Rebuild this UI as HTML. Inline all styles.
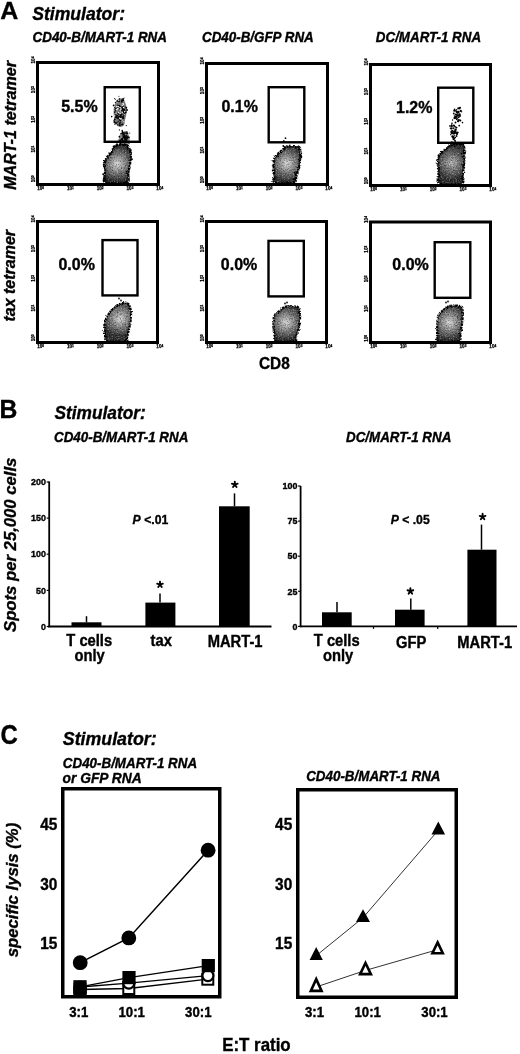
<!DOCTYPE html>
<html><head><meta charset="utf-8"><style>
html,body{margin:0;padding:0;background:#fff;width:520px;height:1054px;overflow:hidden}
svg{display:block;filter:grayscale(1)}
text{font-family:"Liberation Sans",sans-serif;font-weight:bold;fill:#000;stroke:#000;stroke-width:0.35px}
</style></head><body>
<svg width="520" height="1054" viewBox="0 0 520 1054">
<text transform="translate(0.3,19.3) scale(1.0,0.95)" font-size="25">A</text>
<text transform="translate(32.2,19.6) scale(1.0,1.05)" font-size="17.6" font-style="italic">Stimulator:</text>
<text transform="translate(32.6,42.4) scale(1.0,1.05)" font-size="13.4" font-style="italic">CD40-B/MART-1 RNA</text>
<text transform="translate(202.0,42.2) scale(1.0,1.05)" font-size="13.4" font-style="italic">CD40-B/GFP RNA</text>
<text transform="translate(375.8,42.2) scale(1.0,1.05)" font-size="13.4" font-style="italic">DC/MART-1 RNA</text>
<defs>
<radialGradient id="bg" cx="0.5" cy="0.5" r="0.6"><stop offset="0" stop-color="#d8d8d8"/><stop offset="0.35" stop-color="#a8a8a8"/><stop offset="0.75" stop-color="#6a6a6a"/><stop offset="1" stop-color="#333"/></radialGradient>
<radialGradient id="bgd" cx="0.5" cy="0.5" r="0.6"><stop offset="0" stop-color="#c0c0c0"/><stop offset="0.35" stop-color="#8a8a8a"/><stop offset="0.75" stop-color="#555"/><stop offset="1" stop-color="#2a2a2a"/></radialGradient>
<filter id="rough" x="-20%" y="-20%" width="140%" height="140%"><feTurbulence type="fractalNoise" baseFrequency="0.6" numOctaves="2" seed="3"/><feDisplacementMap in="SourceGraphic" scale="3" xChannelSelector="R" yChannelSelector="G"/></filter>
</defs>
<defs>
<radialGradient id="g0" gradientUnits="userSpaceOnUse" cx="117.6" cy="163.7" r="17"><stop offset="0" stop-color="#dcdcdc"/><stop offset="0.25" stop-color="#acacac"/><stop offset="0.6" stop-color="#707070"/><stop offset="0.9" stop-color="#444"/><stop offset="1" stop-color="#2e2e2e"/></radialGradient>
<radialGradient id="g1" gradientUnits="userSpaceOnUse" cx="286.9" cy="163.5" r="17"><stop offset="0" stop-color="#dcdcdc"/><stop offset="0.25" stop-color="#acacac"/><stop offset="0.6" stop-color="#707070"/><stop offset="0.9" stop-color="#444"/><stop offset="1" stop-color="#2e2e2e"/></radialGradient>
<radialGradient id="g2" gradientUnits="userSpaceOnUse" cx="451.7" cy="162.7" r="17"><stop offset="0" stop-color="#bdbdbd"/><stop offset="0.25" stop-color="#8e8e8e"/><stop offset="0.6" stop-color="#5e5e5e"/><stop offset="0.9" stop-color="#3a3a3a"/><stop offset="1" stop-color="#2a2a2a"/></radialGradient>
<radialGradient id="g3" gradientUnits="userSpaceOnUse" cx="120" cy="318.8" r="17"><stop offset="0" stop-color="#dcdcdc"/><stop offset="0.25" stop-color="#acacac"/><stop offset="0.6" stop-color="#707070"/><stop offset="0.9" stop-color="#444"/><stop offset="1" stop-color="#2e2e2e"/></radialGradient>
<radialGradient id="g4" gradientUnits="userSpaceOnUse" cx="286" cy="322.3" r="17"><stop offset="0" stop-color="#dcdcdc"/><stop offset="0.25" stop-color="#acacac"/><stop offset="0.6" stop-color="#707070"/><stop offset="0.9" stop-color="#444"/><stop offset="1" stop-color="#2e2e2e"/></radialGradient>
<radialGradient id="g5" gradientUnits="userSpaceOnUse" cx="449.4" cy="322.3" r="17"><stop offset="0" stop-color="#dcdcdc"/><stop offset="0.25" stop-color="#acacac"/><stop offset="0.6" stop-color="#707070"/><stop offset="0.9" stop-color="#444"/><stop offset="1" stop-color="#2e2e2e"/></radialGradient>
<filter id="grain" x="-5%" y="-5%" width="110%" height="110%"><feTurbulence type="fractalNoise" baseFrequency="0.75" numOctaves="2" seed="11" result="t"/><feColorMatrix in="t" type="matrix" values="0 0 0 0 0  0 0 0 0 0  0 0 0 0 0  3 0 0 0 -1.45" result="m"/><feComposite in="SourceGraphic" in2="m" operator="in"/></filter>
<filter id="grain2" x="-5%" y="-5%" width="110%" height="110%"><feTurbulence type="fractalNoise" baseFrequency="0.75" numOctaves="2" seed="23" result="t"/><feColorMatrix in="t" type="matrix" values="0 0 0 0 0  0 0 0 0 0  0 0 0 0 0  3 0 0 0 -1.5" result="m"/><feComposite in="SourceGraphic" in2="m" operator="in"/></filter>
</defs>
<path d="M115.2,145.9 C113.1,147.3 112.4,150.6 110.9,152.6 C109.5,154.6 107.5,156.1 106.5,157.9 C105.5,159.8 104.8,161.6 104.6,163.7 C104.4,165.8 105.1,168.3 105.1,170.4 C105.1,172.5 104.5,174.2 104.6,176.2 C104.7,178.2 101.9,181.4 105.6,182.5 C109.3,183.6 122.9,183.7 126.7,182.5 C130.5,181.3 127.8,177.5 128.2,175.2 C128.6,172.9 128.7,170.9 129.1,168.5 C129.5,166.1 130.3,163.4 130.6,160.8 C130.8,158.2 130.9,155.3 130.6,153.1 C130.3,150.8 129.8,148.8 128.7,147.3 C127.6,145.9 126.0,144.6 123.8,144.4 C121.5,144.2 117.3,144.5 115.2,145.9Z" fill="url(#g0)"/>
<path d="M115.2,145.9 C113.1,147.3 112.4,150.6 110.9,152.6 C109.5,154.6 107.5,156.1 106.5,157.9 C105.5,159.8 104.8,161.6 104.6,163.7 C104.4,165.8 105.1,168.3 105.1,170.4 C105.1,172.5 104.5,174.2 104.6,176.2 C104.7,178.2 101.9,181.4 105.6,182.5 C109.3,183.6 122.9,183.7 126.7,182.5 C130.5,181.3 127.8,177.5 128.2,175.2 C128.6,172.9 128.7,170.9 129.1,168.5 C129.5,166.1 130.3,163.4 130.6,160.8 C130.8,158.2 130.9,155.3 130.6,153.1 C130.3,150.8 129.8,148.8 128.7,147.3 C127.6,145.9 126.0,144.6 123.8,144.4 C121.5,144.2 117.3,144.5 115.2,145.9Z" fill="#000" fill-opacity="0.45" filter="url(#grain)"/>
<path d="M115.2,145.9 C113.1,147.3 112.4,150.6 110.9,152.6 C109.5,154.6 107.5,156.1 106.5,157.9 C105.5,159.8 104.8,161.6 104.6,163.7 C104.4,165.8 105.1,168.3 105.1,170.4 C105.1,172.5 104.5,174.2 104.6,176.2 C104.7,178.2 101.9,181.4 105.6,182.5 C109.3,183.6 122.9,183.7 126.7,182.5 C130.5,181.3 127.8,177.5 128.2,175.2 C128.6,172.9 128.7,170.9 129.1,168.5 C129.5,166.1 130.3,163.4 130.6,160.8 C130.8,158.2 130.9,155.3 130.6,153.1 C130.3,150.8 129.8,148.8 128.7,147.3 C127.6,145.9 126.0,144.6 123.8,144.4 C121.5,144.2 117.3,144.5 115.2,145.9Z" fill="#fff" fill-opacity="0.35" filter="url(#grain2)"/>
<g filter="url(#rough)"><path d="M115.2,145.9 C113.1,147.3 112.4,150.6 110.9,152.6 C109.5,154.6 107.5,156.1 106.5,157.9 C105.5,159.8 104.8,161.6 104.6,163.7 C104.4,165.8 105.1,168.3 105.1,170.4 C105.1,172.5 104.5,174.2 104.6,176.2 C104.7,178.2 101.9,181.4 105.6,182.5 C109.3,183.6 122.9,183.7 126.7,182.5 C130.5,181.3 127.8,177.5 128.2,175.2 C128.6,172.9 128.7,170.9 129.1,168.5 C129.5,166.1 130.3,163.4 130.6,160.8 C130.8,158.2 130.9,155.3 130.6,153.1 C130.3,150.8 129.8,148.8 128.7,147.3 C127.6,145.9 126.0,144.6 123.8,144.4 C121.5,144.2 117.3,144.5 115.2,145.9Z" fill="none" stroke="#000" stroke-width="2.2" stroke-dasharray="2.5 0.8 1.5 1"/></g>
<circle cx="114.6" cy="149.1" r="0.54" fill="#000"/>
<circle cx="112.7" cy="149.7" r="0.75" fill="#000"/>
<circle cx="114.7" cy="146.3" r="0.55" fill="#000"/>
<circle cx="113.6" cy="148.3" r="0.61" fill="#000"/>
<circle cx="109.3" cy="155.5" r="0.70" fill="#000"/>
<circle cx="108.3" cy="158.3" r="0.64" fill="#000"/>
<circle cx="110.8" cy="153.9" r="0.91" fill="#000"/>
<circle cx="109.0" cy="152.9" r="0.69" fill="#000"/>
<circle cx="105.8" cy="161.2" r="0.60" fill="#000"/>
<circle cx="104.5" cy="162.2" r="0.79" fill="#000"/>
<circle cx="105.1" cy="162.1" r="0.85" fill="#000"/>
<circle cx="103.7" cy="164.8" r="0.94" fill="#000"/>
<circle cx="104.4" cy="171.0" r="0.56" fill="#000"/>
<circle cx="104.8" cy="166.0" r="0.74" fill="#000"/>
<circle cx="103.9" cy="162.6" r="0.79" fill="#000"/>
<circle cx="104.1" cy="176.8" r="0.80" fill="#000"/>
<circle cx="103.2" cy="174.2" r="0.97" fill="#000"/>
<circle cx="104.7" cy="172.9" r="0.85" fill="#000"/>
<circle cx="106.9" cy="180.2" r="0.64" fill="#000"/>
<circle cx="104.9" cy="178.5" r="0.73" fill="#000"/>
<circle cx="105.0" cy="177.5" r="0.88" fill="#000"/>
<circle cx="126.9" cy="182.5" r="0.94" fill="#000"/>
<circle cx="125.7" cy="182.3" r="0.94" fill="#000"/>
<circle cx="128.4" cy="176.0" r="0.71" fill="#000"/>
<circle cx="128.9" cy="178.4" r="0.58" fill="#000"/>
<circle cx="128.4" cy="174.7" r="0.74" fill="#000"/>
<circle cx="128.7" cy="171.3" r="0.71" fill="#000"/>
<circle cx="126.5" cy="171.8" r="0.85" fill="#000"/>
<circle cx="127.7" cy="170.8" r="0.53" fill="#000"/>
<circle cx="130.8" cy="159.8" r="0.90" fill="#000"/>
<circle cx="129.3" cy="165.7" r="0.82" fill="#000"/>
<circle cx="129.8" cy="168.3" r="0.58" fill="#000"/>
<circle cx="129.6" cy="165.9" r="0.58" fill="#000"/>
<circle cx="130.5" cy="160.2" r="0.94" fill="#000"/>
<circle cx="131.0" cy="156.6" r="0.67" fill="#000"/>
<circle cx="131.9" cy="159.2" r="1.00" fill="#000"/>
<circle cx="130.2" cy="157.3" r="0.55" fill="#000"/>
<circle cx="129.8" cy="152.8" r="0.58" fill="#000"/>
<circle cx="131.6" cy="152.6" r="0.57" fill="#000"/>
<circle cx="130.7" cy="150.1" r="0.99" fill="#000"/>
<circle cx="124.2" cy="144.1" r="0.68" fill="#000"/>
<circle cx="128.0" cy="145.7" r="0.89" fill="#000"/>
<circle cx="127.4" cy="148.0" r="0.99" fill="#000"/>
<circle cx="117.0" cy="144.1" r="0.87" fill="#000"/>
<circle cx="121.0" cy="144.6" r="0.51" fill="#000"/>
<circle cx="123.4" cy="145.1" r="0.85" fill="#000"/>
<circle cx="113.6" cy="146.5" r="0.99" fill="#000"/>
<circle cx="115.2" cy="146.3" r="0.61" fill="#000"/>
<path d="M284.6,147.3 C282.9,148.2 282.4,150.8 281.2,151.9 C280.0,153.1 278.9,153.0 277.7,154.2 C276.5,155.3 274.9,156.7 274.2,158.8 C273.5,160.9 273.7,164.0 273.7,166.9 C273.7,169.8 274.0,173.6 274.2,176.2 C274.4,178.8 271.5,181.4 274.8,182.5 C278.1,183.6 290.2,183.6 293.8,182.5 C297.4,181.4 295.3,178.8 296.2,176.2 C297.1,173.6 298.3,170.0 299.0,166.9 C299.7,163.8 300.0,160.6 300.2,157.7 C300.4,154.8 300.5,151.4 300.2,149.6 C299.9,147.8 299.9,147.3 298.5,146.7 C297.1,146.1 293.8,146.1 291.5,146.2 C289.2,146.3 286.3,146.4 284.6,147.3Z" fill="url(#g1)"/>
<path d="M284.6,147.3 C282.9,148.2 282.4,150.8 281.2,151.9 C280.0,153.1 278.9,153.0 277.7,154.2 C276.5,155.3 274.9,156.7 274.2,158.8 C273.5,160.9 273.7,164.0 273.7,166.9 C273.7,169.8 274.0,173.6 274.2,176.2 C274.4,178.8 271.5,181.4 274.8,182.5 C278.1,183.6 290.2,183.6 293.8,182.5 C297.4,181.4 295.3,178.8 296.2,176.2 C297.1,173.6 298.3,170.0 299.0,166.9 C299.7,163.8 300.0,160.6 300.2,157.7 C300.4,154.8 300.5,151.4 300.2,149.6 C299.9,147.8 299.9,147.3 298.5,146.7 C297.1,146.1 293.8,146.1 291.5,146.2 C289.2,146.3 286.3,146.4 284.6,147.3Z" fill="#000" fill-opacity="0.45" filter="url(#grain)"/>
<path d="M284.6,147.3 C282.9,148.2 282.4,150.8 281.2,151.9 C280.0,153.1 278.9,153.0 277.7,154.2 C276.5,155.3 274.9,156.7 274.2,158.8 C273.5,160.9 273.7,164.0 273.7,166.9 C273.7,169.8 274.0,173.6 274.2,176.2 C274.4,178.8 271.5,181.4 274.8,182.5 C278.1,183.6 290.2,183.6 293.8,182.5 C297.4,181.4 295.3,178.8 296.2,176.2 C297.1,173.6 298.3,170.0 299.0,166.9 C299.7,163.8 300.0,160.6 300.2,157.7 C300.4,154.8 300.5,151.4 300.2,149.6 C299.9,147.8 299.9,147.3 298.5,146.7 C297.1,146.1 293.8,146.1 291.5,146.2 C289.2,146.3 286.3,146.4 284.6,147.3Z" fill="#fff" fill-opacity="0.35" filter="url(#grain2)"/>
<g filter="url(#rough)"><path d="M284.6,147.3 C282.9,148.2 282.4,150.8 281.2,151.9 C280.0,153.1 278.9,153.0 277.7,154.2 C276.5,155.3 274.9,156.7 274.2,158.8 C273.5,160.9 273.7,164.0 273.7,166.9 C273.7,169.8 274.0,173.6 274.2,176.2 C274.4,178.8 271.5,181.4 274.8,182.5 C278.1,183.6 290.2,183.6 293.8,182.5 C297.4,181.4 295.3,178.8 296.2,176.2 C297.1,173.6 298.3,170.0 299.0,166.9 C299.7,163.8 300.0,160.6 300.2,157.7 C300.4,154.8 300.5,151.4 300.2,149.6 C299.9,147.8 299.9,147.3 298.5,146.7 C297.1,146.1 293.8,146.1 291.5,146.2 C289.2,146.3 286.3,146.4 284.6,147.3Z" fill="none" stroke="#000" stroke-width="2.2" stroke-dasharray="2.5 0.8 1.5 1"/></g>
<circle cx="284.3" cy="149.4" r="0.95" fill="#000"/>
<circle cx="280.4" cy="151.3" r="0.90" fill="#000"/>
<circle cx="283.3" cy="146.0" r="0.89" fill="#000"/>
<circle cx="278.0" cy="153.7" r="0.89" fill="#000"/>
<circle cx="280.8" cy="150.4" r="0.70" fill="#000"/>
<circle cx="277.7" cy="155.6" r="0.59" fill="#000"/>
<circle cx="278.4" cy="156.4" r="0.90" fill="#000"/>
<circle cx="278.4" cy="152.6" r="0.83" fill="#000"/>
<circle cx="273.6" cy="161.5" r="0.51" fill="#000"/>
<circle cx="273.1" cy="165.8" r="0.97" fill="#000"/>
<circle cx="275.1" cy="161.1" r="0.61" fill="#000"/>
<circle cx="273.9" cy="161.5" r="0.79" fill="#000"/>
<circle cx="273.7" cy="161.1" r="0.96" fill="#000"/>
<circle cx="272.7" cy="170.5" r="0.95" fill="#000"/>
<circle cx="274.8" cy="170.3" r="0.77" fill="#000"/>
<circle cx="274.9" cy="171.9" r="0.59" fill="#000"/>
<circle cx="273.9" cy="166.4" r="0.74" fill="#000"/>
<circle cx="273.3" cy="173.4" r="0.76" fill="#000"/>
<circle cx="274.6" cy="179.3" r="0.78" fill="#000"/>
<circle cx="274.1" cy="179.3" r="0.75" fill="#000"/>
<circle cx="274.7" cy="177.8" r="0.72" fill="#000"/>
<circle cx="294.2" cy="178.6" r="0.85" fill="#000"/>
<circle cx="293.9" cy="179.4" r="0.97" fill="#000"/>
<circle cx="297.0" cy="176.6" r="0.63" fill="#000"/>
<circle cx="296.8" cy="178.4" r="0.57" fill="#000"/>
<circle cx="296.2" cy="175.2" r="0.62" fill="#000"/>
<circle cx="295.6" cy="174.1" r="0.95" fill="#000"/>
<circle cx="296.4" cy="173.5" r="0.57" fill="#000"/>
<circle cx="299.3" cy="167.9" r="0.98" fill="#000"/>
<circle cx="294.6" cy="172.7" r="0.92" fill="#000"/>
<circle cx="295.7" cy="175.2" r="0.67" fill="#000"/>
<circle cx="298.6" cy="166.4" r="0.51" fill="#000"/>
<circle cx="299.5" cy="161.9" r="0.67" fill="#000"/>
<circle cx="299.4" cy="161.1" r="0.99" fill="#000"/>
<circle cx="300.4" cy="159.6" r="0.63" fill="#000"/>
<circle cx="299.2" cy="165.8" r="0.56" fill="#000"/>
<circle cx="301.6" cy="153.4" r="0.63" fill="#000"/>
<circle cx="301.2" cy="155.9" r="0.85" fill="#000"/>
<circle cx="301.5" cy="157.5" r="0.71" fill="#000"/>
<circle cx="301.4" cy="156.6" r="0.90" fill="#000"/>
<circle cx="300.4" cy="156.8" r="0.93" fill="#000"/>
<circle cx="298.8" cy="149.3" r="0.96" fill="#000"/>
<circle cx="300.5" cy="149.6" r="0.62" fill="#000"/>
<circle cx="297.9" cy="146.9" r="0.60" fill="#000"/>
<circle cx="295.8" cy="148.0" r="0.64" fill="#000"/>
<circle cx="295.4" cy="147.2" r="0.51" fill="#000"/>
<circle cx="298.2" cy="146.7" r="0.78" fill="#000"/>
<circle cx="288.1" cy="146.7" r="0.55" fill="#000"/>
<circle cx="284.9" cy="147.5" r="0.92" fill="#000"/>
<circle cx="287.4" cy="146.6" r="0.99" fill="#000"/>
<circle cx="289.8" cy="145.4" r="0.82" fill="#000"/>
<path d="M447.7,147.7 C446.5,148.8 444.4,149.8 443.0,151.2 C441.6,152.5 439.9,153.7 439.0,155.8 C438.1,157.9 438.0,160.7 437.9,163.8 C437.8,166.9 438.2,170.9 438.5,174.2 C438.8,177.5 435.8,181.9 439.6,183.5 C443.4,185.1 457.6,184.8 461.5,183.5 C465.4,182.2 462.3,178.3 462.7,175.4 C463.1,172.5 463.5,169.7 463.8,166.2 C464.1,162.7 464.4,157.9 464.4,154.6 C464.4,151.3 464.9,148.3 463.8,146.5 C462.7,144.7 460.3,144.0 458.0,143.7 C455.7,143.4 451.7,144.1 450.0,144.8 C448.3,145.5 448.9,146.6 447.7,147.7Z" fill="url(#g2)"/>
<path d="M447.7,147.7 C446.5,148.8 444.4,149.8 443.0,151.2 C441.6,152.5 439.9,153.7 439.0,155.8 C438.1,157.9 438.0,160.7 437.9,163.8 C437.8,166.9 438.2,170.9 438.5,174.2 C438.8,177.5 435.8,181.9 439.6,183.5 C443.4,185.1 457.6,184.8 461.5,183.5 C465.4,182.2 462.3,178.3 462.7,175.4 C463.1,172.5 463.5,169.7 463.8,166.2 C464.1,162.7 464.4,157.9 464.4,154.6 C464.4,151.3 464.9,148.3 463.8,146.5 C462.7,144.7 460.3,144.0 458.0,143.7 C455.7,143.4 451.7,144.1 450.0,144.8 C448.3,145.5 448.9,146.6 447.7,147.7Z" fill="#000" fill-opacity="0.45" filter="url(#grain)"/>
<path d="M447.7,147.7 C446.5,148.8 444.4,149.8 443.0,151.2 C441.6,152.5 439.9,153.7 439.0,155.8 C438.1,157.9 438.0,160.7 437.9,163.8 C437.8,166.9 438.2,170.9 438.5,174.2 C438.8,177.5 435.8,181.9 439.6,183.5 C443.4,185.1 457.6,184.8 461.5,183.5 C465.4,182.2 462.3,178.3 462.7,175.4 C463.1,172.5 463.5,169.7 463.8,166.2 C464.1,162.7 464.4,157.9 464.4,154.6 C464.4,151.3 464.9,148.3 463.8,146.5 C462.7,144.7 460.3,144.0 458.0,143.7 C455.7,143.4 451.7,144.1 450.0,144.8 C448.3,145.5 448.9,146.6 447.7,147.7Z" fill="#fff" fill-opacity="0.35" filter="url(#grain2)"/>
<g filter="url(#rough)"><path d="M447.7,147.7 C446.5,148.8 444.4,149.8 443.0,151.2 C441.6,152.5 439.9,153.7 439.0,155.8 C438.1,157.9 438.0,160.7 437.9,163.8 C437.8,166.9 438.2,170.9 438.5,174.2 C438.8,177.5 435.8,181.9 439.6,183.5 C443.4,185.1 457.6,184.8 461.5,183.5 C465.4,182.2 462.3,178.3 462.7,175.4 C463.1,172.5 463.5,169.7 463.8,166.2 C464.1,162.7 464.4,157.9 464.4,154.6 C464.4,151.3 464.9,148.3 463.8,146.5 C462.7,144.7 460.3,144.0 458.0,143.7 C455.7,143.4 451.7,144.1 450.0,144.8 C448.3,145.5 448.9,146.6 447.7,147.7Z" fill="none" stroke="#000" stroke-width="2.2" stroke-dasharray="2.5 0.8 1.5 1"/></g>
<circle cx="445.6" cy="149.4" r="0.56" fill="#000"/>
<circle cx="447.3" cy="147.3" r="0.58" fill="#000"/>
<circle cx="448.3" cy="146.5" r="0.84" fill="#000"/>
<circle cx="441.9" cy="153.2" r="0.73" fill="#000"/>
<circle cx="441.7" cy="152.2" r="0.98" fill="#000"/>
<circle cx="438.5" cy="155.5" r="0.98" fill="#000"/>
<circle cx="438.6" cy="158.3" r="0.69" fill="#000"/>
<circle cx="437.9" cy="159.6" r="0.75" fill="#000"/>
<circle cx="439.0" cy="156.2" r="0.70" fill="#000"/>
<circle cx="439.7" cy="156.2" r="0.62" fill="#000"/>
<circle cx="436.9" cy="160.2" r="0.83" fill="#000"/>
<circle cx="439.0" cy="170.6" r="0.66" fill="#000"/>
<circle cx="439.3" cy="175.2" r="0.82" fill="#000"/>
<circle cx="438.9" cy="162.6" r="0.81" fill="#000"/>
<circle cx="438.5" cy="171.0" r="0.76" fill="#000"/>
<circle cx="439.0" cy="167.6" r="0.91" fill="#000"/>
<circle cx="439.3" cy="169.0" r="0.85" fill="#000"/>
<circle cx="439.2" cy="176.4" r="0.68" fill="#000"/>
<circle cx="439.2" cy="174.2" r="0.81" fill="#000"/>
<circle cx="438.7" cy="179.1" r="0.50" fill="#000"/>
<circle cx="439.4" cy="180.6" r="0.77" fill="#000"/>
<circle cx="440.6" cy="180.9" r="0.63" fill="#000"/>
<circle cx="461.4" cy="184.3" r="0.60" fill="#000"/>
<circle cx="463.4" cy="177.3" r="0.69" fill="#000"/>
<circle cx="461.5" cy="178.2" r="0.81" fill="#000"/>
<circle cx="462.7" cy="178.5" r="0.63" fill="#000"/>
<circle cx="462.0" cy="178.6" r="0.51" fill="#000"/>
<circle cx="462.6" cy="176.2" r="0.85" fill="#000"/>
<circle cx="463.2" cy="170.2" r="0.73" fill="#000"/>
<circle cx="464.6" cy="172.4" r="0.60" fill="#000"/>
<circle cx="463.9" cy="166.3" r="0.73" fill="#000"/>
<circle cx="464.6" cy="167.7" r="0.63" fill="#000"/>
<circle cx="464.5" cy="163.6" r="0.79" fill="#000"/>
<circle cx="461.7" cy="164.2" r="0.57" fill="#000"/>
<circle cx="462.4" cy="156.6" r="0.85" fill="#000"/>
<circle cx="464.8" cy="162.9" r="0.51" fill="#000"/>
<circle cx="462.8" cy="166.2" r="0.65" fill="#000"/>
<circle cx="463.4" cy="165.2" r="0.92" fill="#000"/>
<circle cx="463.8" cy="164.5" r="0.56" fill="#000"/>
<circle cx="463.4" cy="145.2" r="0.64" fill="#000"/>
<circle cx="461.6" cy="153.6" r="0.79" fill="#000"/>
<circle cx="463.5" cy="152.0" r="0.52" fill="#000"/>
<circle cx="464.7" cy="153.1" r="0.97" fill="#000"/>
<circle cx="464.1" cy="153.7" r="0.59" fill="#000"/>
<circle cx="463.4" cy="144.9" r="0.91" fill="#000"/>
<circle cx="462.0" cy="143.6" r="0.77" fill="#000"/>
<circle cx="461.0" cy="144.9" r="0.73" fill="#000"/>
<circle cx="459.0" cy="143.8" r="0.52" fill="#000"/>
<circle cx="451.3" cy="145.4" r="0.67" fill="#000"/>
<circle cx="455.4" cy="141.6" r="0.63" fill="#000"/>
<circle cx="452.4" cy="145.5" r="0.70" fill="#000"/>
<circle cx="457.0" cy="144.4" r="0.95" fill="#000"/>
<circle cx="454.4" cy="146.2" r="1.00" fill="#000"/>
<circle cx="449.3" cy="146.6" r="0.55" fill="#000"/>
<circle cx="449.8" cy="146.2" r="0.63" fill="#000"/>
<path d="M117.7,305.0 C115.6,306.1 113.6,307.7 111.9,309.6 C110.2,311.5 108.5,314.0 107.3,316.5 C106.0,319.0 104.8,321.7 104.4,324.6 C104.0,327.5 104.5,331.1 105.0,333.8 C105.5,336.5 103.8,339.8 107.3,341.0 C110.8,342.2 122.5,341.4 125.8,341.0 C129.1,340.6 126.4,340.3 126.9,338.5 C127.4,336.7 128.1,333.1 128.7,330.4 C129.3,327.7 130.0,325.2 130.4,322.3 C130.8,319.4 131.2,315.9 131.0,313.0 C130.8,310.1 130.3,306.7 129.2,305.0 C128.1,303.3 126.5,302.7 124.6,302.7 C122.7,302.7 119.8,303.9 117.7,305.0Z" fill="url(#g3)"/>
<path d="M117.7,305.0 C115.6,306.1 113.6,307.7 111.9,309.6 C110.2,311.5 108.5,314.0 107.3,316.5 C106.0,319.0 104.8,321.7 104.4,324.6 C104.0,327.5 104.5,331.1 105.0,333.8 C105.5,336.5 103.8,339.8 107.3,341.0 C110.8,342.2 122.5,341.4 125.8,341.0 C129.1,340.6 126.4,340.3 126.9,338.5 C127.4,336.7 128.1,333.1 128.7,330.4 C129.3,327.7 130.0,325.2 130.4,322.3 C130.8,319.4 131.2,315.9 131.0,313.0 C130.8,310.1 130.3,306.7 129.2,305.0 C128.1,303.3 126.5,302.7 124.6,302.7 C122.7,302.7 119.8,303.9 117.7,305.0Z" fill="#000" fill-opacity="0.45" filter="url(#grain)"/>
<path d="M117.7,305.0 C115.6,306.1 113.6,307.7 111.9,309.6 C110.2,311.5 108.5,314.0 107.3,316.5 C106.0,319.0 104.8,321.7 104.4,324.6 C104.0,327.5 104.5,331.1 105.0,333.8 C105.5,336.5 103.8,339.8 107.3,341.0 C110.8,342.2 122.5,341.4 125.8,341.0 C129.1,340.6 126.4,340.3 126.9,338.5 C127.4,336.7 128.1,333.1 128.7,330.4 C129.3,327.7 130.0,325.2 130.4,322.3 C130.8,319.4 131.2,315.9 131.0,313.0 C130.8,310.1 130.3,306.7 129.2,305.0 C128.1,303.3 126.5,302.7 124.6,302.7 C122.7,302.7 119.8,303.9 117.7,305.0Z" fill="#fff" fill-opacity="0.35" filter="url(#grain2)"/>
<g filter="url(#rough)"><path d="M117.7,305.0 C115.6,306.1 113.6,307.7 111.9,309.6 C110.2,311.5 108.5,314.0 107.3,316.5 C106.0,319.0 104.8,321.7 104.4,324.6 C104.0,327.5 104.5,331.1 105.0,333.8 C105.5,336.5 103.8,339.8 107.3,341.0 C110.8,342.2 122.5,341.4 125.8,341.0 C129.1,340.6 126.4,340.3 126.9,338.5 C127.4,336.7 128.1,333.1 128.7,330.4 C129.3,327.7 130.0,325.2 130.4,322.3 C130.8,319.4 131.2,315.9 131.0,313.0 C130.8,310.1 130.3,306.7 129.2,305.0 C128.1,303.3 126.5,302.7 124.6,302.7 C122.7,302.7 119.8,303.9 117.7,305.0Z" fill="none" stroke="#000" stroke-width="2.2" stroke-dasharray="2.5 0.8 1.5 1"/></g>
<path d="M284.2,307.3 C282.5,308.1 281.2,309.5 279.6,310.8 C278.0,312.1 275.4,313.1 274.4,315.4 C273.3,317.7 273.3,321.5 273.3,324.6 C273.3,327.7 273.9,331.1 274.4,333.8 C274.9,336.5 272.8,339.8 276.2,341.0 C279.6,342.2 291.3,341.6 294.6,341.0 C297.9,340.4 295.2,339.1 295.8,337.3 C296.4,335.5 297.4,332.9 298.1,330.4 C298.8,327.9 299.5,325.2 299.8,322.3 C300.1,319.4 300.1,315.6 299.8,313.1 C299.5,310.6 299.7,308.5 298.1,307.3 C296.5,306.1 292.3,306.2 290.0,306.2 C287.7,306.2 285.9,306.5 284.2,307.3Z" fill="url(#g4)"/>
<path d="M284.2,307.3 C282.5,308.1 281.2,309.5 279.6,310.8 C278.0,312.1 275.4,313.1 274.4,315.4 C273.3,317.7 273.3,321.5 273.3,324.6 C273.3,327.7 273.9,331.1 274.4,333.8 C274.9,336.5 272.8,339.8 276.2,341.0 C279.6,342.2 291.3,341.6 294.6,341.0 C297.9,340.4 295.2,339.1 295.8,337.3 C296.4,335.5 297.4,332.9 298.1,330.4 C298.8,327.9 299.5,325.2 299.8,322.3 C300.1,319.4 300.1,315.6 299.8,313.1 C299.5,310.6 299.7,308.5 298.1,307.3 C296.5,306.1 292.3,306.2 290.0,306.2 C287.7,306.2 285.9,306.5 284.2,307.3Z" fill="#000" fill-opacity="0.45" filter="url(#grain)"/>
<path d="M284.2,307.3 C282.5,308.1 281.2,309.5 279.6,310.8 C278.0,312.1 275.4,313.1 274.4,315.4 C273.3,317.7 273.3,321.5 273.3,324.6 C273.3,327.7 273.9,331.1 274.4,333.8 C274.9,336.5 272.8,339.8 276.2,341.0 C279.6,342.2 291.3,341.6 294.6,341.0 C297.9,340.4 295.2,339.1 295.8,337.3 C296.4,335.5 297.4,332.9 298.1,330.4 C298.8,327.9 299.5,325.2 299.8,322.3 C300.1,319.4 300.1,315.6 299.8,313.1 C299.5,310.6 299.7,308.5 298.1,307.3 C296.5,306.1 292.3,306.2 290.0,306.2 C287.7,306.2 285.9,306.5 284.2,307.3Z" fill="#fff" fill-opacity="0.35" filter="url(#grain2)"/>
<g filter="url(#rough)"><path d="M284.2,307.3 C282.5,308.1 281.2,309.5 279.6,310.8 C278.0,312.1 275.4,313.1 274.4,315.4 C273.3,317.7 273.3,321.5 273.3,324.6 C273.3,327.7 273.9,331.1 274.4,333.8 C274.9,336.5 272.8,339.8 276.2,341.0 C279.6,342.2 291.3,341.6 294.6,341.0 C297.9,340.4 295.2,339.1 295.8,337.3 C296.4,335.5 297.4,332.9 298.1,330.4 C298.8,327.9 299.5,325.2 299.8,322.3 C300.1,319.4 300.1,315.6 299.8,313.1 C299.5,310.6 299.7,308.5 298.1,307.3 C296.5,306.1 292.3,306.2 290.0,306.2 C287.7,306.2 285.9,306.5 284.2,307.3Z" fill="none" stroke="#000" stroke-width="2.2" stroke-dasharray="2.5 0.8 1.5 1"/></g>
<path d="M447.7,306.7 C446.0,307.5 444.6,308.8 443.1,310.2 C441.6,311.6 439.5,313.0 438.5,315.4 C437.5,317.8 437.5,321.5 437.3,324.6 C437.1,327.7 437.0,331.1 437.3,333.8 C437.6,336.5 435.4,339.8 439.0,341.0 C442.6,342.2 455.1,342.4 458.7,341.0 C462.3,339.6 459.8,335.6 460.4,332.7 C461.0,329.8 461.7,326.8 462.1,323.5 C462.5,320.2 462.8,315.9 462.7,313.1 C462.6,310.3 463.0,307.9 461.5,306.7 C460.0,305.4 455.8,305.6 453.5,305.6 C451.2,305.6 449.4,305.9 447.7,306.7Z" fill="url(#g5)"/>
<path d="M447.7,306.7 C446.0,307.5 444.6,308.8 443.1,310.2 C441.6,311.6 439.5,313.0 438.5,315.4 C437.5,317.8 437.5,321.5 437.3,324.6 C437.1,327.7 437.0,331.1 437.3,333.8 C437.6,336.5 435.4,339.8 439.0,341.0 C442.6,342.2 455.1,342.4 458.7,341.0 C462.3,339.6 459.8,335.6 460.4,332.7 C461.0,329.8 461.7,326.8 462.1,323.5 C462.5,320.2 462.8,315.9 462.7,313.1 C462.6,310.3 463.0,307.9 461.5,306.7 C460.0,305.4 455.8,305.6 453.5,305.6 C451.2,305.6 449.4,305.9 447.7,306.7Z" fill="#000" fill-opacity="0.45" filter="url(#grain)"/>
<path d="M447.7,306.7 C446.0,307.5 444.6,308.8 443.1,310.2 C441.6,311.6 439.5,313.0 438.5,315.4 C437.5,317.8 437.5,321.5 437.3,324.6 C437.1,327.7 437.0,331.1 437.3,333.8 C437.6,336.5 435.4,339.8 439.0,341.0 C442.6,342.2 455.1,342.4 458.7,341.0 C462.3,339.6 459.8,335.6 460.4,332.7 C461.0,329.8 461.7,326.8 462.1,323.5 C462.5,320.2 462.8,315.9 462.7,313.1 C462.6,310.3 463.0,307.9 461.5,306.7 C460.0,305.4 455.8,305.6 453.5,305.6 C451.2,305.6 449.4,305.9 447.7,306.7Z" fill="#fff" fill-opacity="0.35" filter="url(#grain2)"/>
<g filter="url(#rough)"><path d="M447.7,306.7 C446.0,307.5 444.6,308.8 443.1,310.2 C441.6,311.6 439.5,313.0 438.5,315.4 C437.5,317.8 437.5,321.5 437.3,324.6 C437.1,327.7 437.0,331.1 437.3,333.8 C437.6,336.5 435.4,339.8 439.0,341.0 C442.6,342.2 455.1,342.4 458.7,341.0 C462.3,339.6 459.8,335.6 460.4,332.7 C461.0,329.8 461.7,326.8 462.1,323.5 C462.5,320.2 462.8,315.9 462.7,313.1 C462.6,310.3 463.0,307.9 461.5,306.7 C460.0,305.4 455.8,305.6 453.5,305.6 C451.2,305.6 449.4,305.9 447.7,306.7Z" fill="none" stroke="#000" stroke-width="2.2" stroke-dasharray="2.5 0.8 1.5 1"/></g>
<path d="M118.0,99.0 C119.5,97.7 121.7,98.0 123.0,99.0 C124.3,100.0 125.4,102.7 126.0,105.0 C126.6,107.3 126.7,110.5 126.5,113.0 C126.3,115.5 125.4,118.0 125.0,120.0 C124.6,122.0 124.8,123.8 124.0,125.0 C123.2,126.2 121.3,127.2 120.0,127.0 C118.7,126.8 117.0,125.7 116.0,124.0 C115.0,122.3 114.3,119.8 114.0,117.0 C113.7,114.2 113.3,110.0 114.0,107.0 C114.7,104.0 116.5,100.3 118.0,99.0Z" fill="#777"/>
<circle cx="113.6" cy="105.4" r="0.87" fill="#000"/>
<circle cx="117.0" cy="116.0" r="0.76" fill="#000"/>
<circle cx="117.8" cy="116.8" r="0.53" fill="#000"/>
<circle cx="122.8" cy="118.3" r="0.81" fill="#000"/>
<circle cx="121.5" cy="108.0" r="0.64" fill="#000"/>
<circle cx="120.0" cy="119.6" r="0.72" fill="#000"/>
<circle cx="126.3" cy="107.8" r="0.94" fill="#000"/>
<circle cx="120.9" cy="112.3" r="0.85" fill="#000"/>
<circle cx="123.1" cy="106.8" r="0.79" fill="#000"/>
<circle cx="123.4" cy="112.0" r="0.96" fill="#000"/>
<circle cx="123.1" cy="98.9" r="0.99" fill="#000"/>
<circle cx="120.0" cy="115.6" r="0.58" fill="#000"/>
<circle cx="114.9" cy="110.4" r="0.97" fill="#000"/>
<circle cx="119.1" cy="101.3" r="0.88" fill="#000"/>
<circle cx="115.8" cy="114.5" r="0.52" fill="#000"/>
<circle cx="120.5" cy="106.7" r="0.96" fill="#000"/>
<circle cx="118.2" cy="106.9" r="0.56" fill="#000"/>
<circle cx="119.9" cy="122.7" r="0.85" fill="#000"/>
<circle cx="121.0" cy="113.9" r="0.76" fill="#000"/>
<circle cx="117.1" cy="108.3" r="0.61" fill="#000"/>
<circle cx="119.6" cy="111.4" r="0.65" fill="#000"/>
<circle cx="111.7" cy="116.6" r="0.82" fill="#000"/>
<circle cx="122.9" cy="106.3" r="0.62" fill="#000"/>
<circle cx="119.2" cy="105.8" r="0.51" fill="#000"/>
<circle cx="114.9" cy="112.1" r="0.71" fill="#000"/>
<circle cx="119.8" cy="123.1" r="0.96" fill="#000"/>
<circle cx="120.1" cy="114.0" r="0.67" fill="#000"/>
<circle cx="115.5" cy="117.4" r="0.60" fill="#000"/>
<circle cx="121.6" cy="100.2" r="0.75" fill="#000"/>
<circle cx="117.6" cy="124.9" r="0.62" fill="#000"/>
<circle cx="121.0" cy="124.5" r="0.65" fill="#000"/>
<circle cx="123.8" cy="109.4" r="0.59" fill="#000"/>
<circle cx="120.6" cy="119.7" r="0.83" fill="#000"/>
<circle cx="121.8" cy="110.7" r="0.70" fill="#000"/>
<circle cx="120.7" cy="113.9" r="0.53" fill="#000"/>
<circle cx="114.3" cy="122.0" r="0.94" fill="#000"/>
<circle cx="122.8" cy="109.2" r="0.59" fill="#000"/>
<circle cx="125.2" cy="107.1" r="0.52" fill="#000"/>
<circle cx="118.3" cy="105.7" r="0.69" fill="#000"/>
<circle cx="119.0" cy="116.0" r="0.50" fill="#000"/>
<circle cx="119.4" cy="118.9" r="0.98" fill="#000"/>
<circle cx="126.3" cy="125.6" r="0.60" fill="#000"/>
<circle cx="116.1" cy="122.9" r="0.91" fill="#000"/>
<circle cx="119.0" cy="113.0" r="0.74" fill="#000"/>
<circle cx="114.7" cy="124.1" r="0.60" fill="#000"/>
<circle cx="115.2" cy="124.0" r="0.52" fill="#000"/>
<circle cx="114.7" cy="119.3" r="0.88" fill="#000"/>
<circle cx="120.9" cy="112.5" r="0.53" fill="#000"/>
<circle cx="122.3" cy="109.2" r="0.87" fill="#000"/>
<circle cx="122.5" cy="107.9" r="0.64" fill="#000"/>
<circle cx="124.5" cy="109.3" r="0.63" fill="#000"/>
<circle cx="119.4" cy="105.6" r="0.64" fill="#000"/>
<circle cx="125.7" cy="112.3" r="0.96" fill="#000"/>
<circle cx="114.6" cy="98.6" r="0.51" fill="#000"/>
<circle cx="120.4" cy="120.5" r="0.98" fill="#000"/>
<circle cx="123.2" cy="109.9" r="0.63" fill="#000"/>
<circle cx="116.4" cy="115.7" r="0.96" fill="#000"/>
<circle cx="122.5" cy="124.3" r="0.87" fill="#000"/>
<circle cx="122.6" cy="100.4" r="0.80" fill="#000"/>
<circle cx="118.6" cy="117.8" r="0.68" fill="#000"/>
<circle cx="120.3" cy="109.0" r="0.60" fill="#000"/>
<circle cx="120.0" cy="106.3" r="0.53" fill="#000"/>
<circle cx="124.2" cy="114.0" r="0.66" fill="#000"/>
<circle cx="127.0" cy="110.1" r="0.99" fill="#000"/>
<circle cx="119.9" cy="115.1" r="0.55" fill="#000"/>
<circle cx="114.7" cy="112.1" r="0.72" fill="#000"/>
<circle cx="120.4" cy="119.8" r="0.81" fill="#000"/>
<circle cx="117.4" cy="100.9" r="0.92" fill="#000"/>
<circle cx="119.1" cy="108.7" r="0.92" fill="#000"/>
<circle cx="118.8" cy="121.3" r="0.69" fill="#000"/>
<circle cx="119.8" cy="107.0" r="0.62" fill="#000"/>
<circle cx="120.1" cy="116.3" r="0.94" fill="#000"/>
<circle cx="117.3" cy="108.9" r="0.70" fill="#000"/>
<circle cx="124.0" cy="111.6" r="0.62" fill="#000"/>
<circle cx="121.8" cy="101.8" r="1.00" fill="#000"/>
<circle cx="123.1" cy="117.1" r="0.91" fill="#000"/>
<circle cx="124.1" cy="98.0" r="0.52" fill="#000"/>
<circle cx="119.5" cy="115.6" r="0.59" fill="#000"/>
<circle cx="124.4" cy="110.3" r="0.97" fill="#000"/>
<circle cx="115.3" cy="122.8" r="0.72" fill="#000"/>
<circle cx="119.6" cy="125.0" r="0.97" fill="#000"/>
<circle cx="123.6" cy="118.2" r="0.81" fill="#000"/>
<circle cx="120.7" cy="119.0" r="0.57" fill="#000"/>
<circle cx="120.7" cy="117.5" r="0.80" fill="#000"/>
<circle cx="118.7" cy="107.9" r="0.51" fill="#000"/>
<circle cx="117.6" cy="122.0" r="0.59" fill="#000"/>
<circle cx="119.1" cy="116.7" r="0.90" fill="#000"/>
<circle cx="118.8" cy="111.2" r="0.55" fill="#000"/>
<circle cx="116.6" cy="117.8" r="0.82" fill="#000"/>
<circle cx="121.7" cy="114.4" r="0.85" fill="#000"/>
<circle cx="117.7" cy="115.3" r="0.65" fill="#000"/>
<circle cx="122.8" cy="110.1" r="0.78" fill="#000"/>
<circle cx="117.8" cy="118.1" r="0.93" fill="#000"/>
<circle cx="123.2" cy="111.8" r="0.60" fill="#000"/>
<circle cx="119.7" cy="107.0" r="0.50" fill="#000"/>
<circle cx="122.9" cy="107.4" r="0.91" fill="#000"/>
<circle cx="114.1" cy="120.6" r="0.73" fill="#000"/>
<circle cx="120.3" cy="113.1" r="0.78" fill="#000"/>
<circle cx="115.3" cy="99.3" r="0.54" fill="#000"/>
<circle cx="117.6" cy="107.0" r="0.75" fill="#000"/>
<circle cx="121.7" cy="116.9" r="0.76" fill="#000"/>
<circle cx="121.5" cy="110.4" r="0.75" fill="#000"/>
<circle cx="120.6" cy="115.7" r="0.97" fill="#000"/>
<circle cx="123.9" cy="110.7" r="0.53" fill="#000"/>
<circle cx="123.0" cy="108.7" r="0.95" fill="#000"/>
<circle cx="115.4" cy="102.4" r="0.58" fill="#000"/>
<circle cx="120.5" cy="106.8" r="0.70" fill="#000"/>
<circle cx="123.6" cy="100.4" r="0.59" fill="#000"/>
<circle cx="120.7" cy="119.4" r="0.76" fill="#000"/>
<circle cx="118.7" cy="114.6" r="0.62" fill="#000"/>
<circle cx="118.9" cy="96.2" r="0.52" fill="#000"/>
<circle cx="114.7" cy="107.2" r="0.52" fill="#000"/>
<circle cx="120.9" cy="108.8" r="0.80" fill="#000"/>
<circle cx="115.5" cy="108.7" r="0.65" fill="#000"/>
<circle cx="116.1" cy="116.8" r="0.71" fill="#000"/>
<circle cx="118.0" cy="105.1" r="0.72" fill="#000"/>
<circle cx="124.7" cy="113.5" r="0.74" fill="#000"/>
<circle cx="120.5" cy="124.7" r="0.89" fill="#000"/>
<circle cx="117.9" cy="113.2" r="0.74" fill="#000"/>
<circle cx="121.4" cy="114.5" r="0.72" fill="#000"/>
<circle cx="123.1" cy="116.4" r="0.76" fill="#000"/>
<circle cx="124.7" cy="114.7" r="0.54" fill="#000"/>
<circle cx="119.4" cy="99.1" r="0.76" fill="#000"/>
<circle cx="123.8" cy="115.0" r="0.69" fill="#000"/>
<circle cx="121.8" cy="110.8" r="0.93" fill="#000"/>
<circle cx="125.5" cy="111.7" r="0.91" fill="#000"/>
<circle cx="121.8" cy="109.7" r="0.89" fill="#000"/>
<circle cx="120.8" cy="110.1" r="0.54" fill="#fff"/>
<circle cx="120.1" cy="107.5" r="0.76" fill="#fff"/>
<circle cx="119.3" cy="121.9" r="0.46" fill="#fff"/>
<circle cx="114.4" cy="110.8" r="0.48" fill="#fff"/>
<circle cx="119.8" cy="118.1" r="0.53" fill="#fff"/>
<circle cx="121.5" cy="111.9" r="0.46" fill="#fff"/>
<circle cx="123.5" cy="107.5" r="0.76" fill="#fff"/>
<circle cx="122.1" cy="120.2" r="0.45" fill="#fff"/>
<circle cx="116.5" cy="109.4" r="0.54" fill="#fff"/>
<circle cx="122.2" cy="105.5" r="0.63" fill="#fff"/>
<circle cx="120.9" cy="109.1" r="0.80" fill="#fff"/>
<circle cx="118.3" cy="106.6" r="0.72" fill="#fff"/>
<circle cx="117.9" cy="108.4" r="0.71" fill="#fff"/>
<circle cx="118.5" cy="112.3" r="0.70" fill="#fff"/>
<circle cx="124.4" cy="114.3" r="0.50" fill="#fff"/>
<circle cx="116.8" cy="106.4" r="0.53" fill="#fff"/>
<circle cx="120.7" cy="111.0" r="0.46" fill="#fff"/>
<circle cx="118.0" cy="106.7" r="0.61" fill="#fff"/>
<circle cx="121.1" cy="109.1" r="0.49" fill="#fff"/>
<circle cx="119.7" cy="110.0" r="0.40" fill="#fff"/>
<circle cx="119.3" cy="113.2" r="0.54" fill="#fff"/>
<circle cx="120.5" cy="118.8" r="0.64" fill="#fff"/>
<circle cx="121.0" cy="119.0" r="0.59" fill="#fff"/>
<circle cx="123.9" cy="121.6" r="0.50" fill="#fff"/>
<circle cx="120.7" cy="113.2" r="0.66" fill="#fff"/>
<circle cx="123.0" cy="103.4" r="0.56" fill="#fff"/>
<circle cx="120.0" cy="111.9" r="0.66" fill="#fff"/>
<circle cx="117.9" cy="108.9" r="0.66" fill="#fff"/>
<circle cx="114.5" cy="115.9" r="0.69" fill="#fff"/>
<circle cx="120.1" cy="124.0" r="0.42" fill="#fff"/>
<circle cx="117.5" cy="109.8" r="0.50" fill="#fff"/>
<circle cx="124.1" cy="114.7" r="0.40" fill="#fff"/>
<circle cx="114.4" cy="106.5" r="0.46" fill="#fff"/>
<circle cx="121.1" cy="118.8" r="0.60" fill="#fff"/>
<circle cx="117.1" cy="102.5" r="0.47" fill="#fff"/>
<circle cx="119.2" cy="115.7" r="0.42" fill="#fff"/>
<circle cx="123.4" cy="104.3" r="0.69" fill="#fff"/>
<circle cx="124.8" cy="111.5" r="0.70" fill="#fff"/>
<circle cx="116.0" cy="113.1" r="0.58" fill="#fff"/>
<circle cx="120.2" cy="113.8" r="0.49" fill="#fff"/>
<circle cx="122.2" cy="112.3" r="0.70" fill="#fff"/>
<circle cx="118.4" cy="100.1" r="0.68" fill="#fff"/>
<circle cx="119.7" cy="118.6" r="0.57" fill="#fff"/>
<path d="M121.0,133.0 C122.2,131.8 124.7,130.5 126.0,131.0 C127.3,131.5 128.5,134.0 129.0,136.0 C129.5,138.0 130.5,141.8 129.0,143.0 C127.5,144.2 121.7,143.8 120.0,143.0 C118.3,142.2 118.8,139.7 119.0,138.0 C119.2,136.3 119.8,134.2 121.0,133.0Z" fill="#8a8a8a"/>
<circle cx="124.8" cy="133.3" r="0.63" fill="#000"/>
<circle cx="119.4" cy="129.9" r="0.61" fill="#000"/>
<circle cx="124.4" cy="137.5" r="0.63" fill="#000"/>
<circle cx="124.4" cy="144.6" r="0.97" fill="#000"/>
<circle cx="123.9" cy="134.4" r="0.94" fill="#000"/>
<circle cx="123.0" cy="140.6" r="0.95" fill="#000"/>
<circle cx="121.1" cy="133.5" r="0.83" fill="#000"/>
<circle cx="127.1" cy="137.4" r="0.92" fill="#000"/>
<circle cx="122.2" cy="130.5" r="0.72" fill="#000"/>
<circle cx="123.4" cy="132.9" r="0.65" fill="#000"/>
<circle cx="124.9" cy="143.4" r="0.54" fill="#000"/>
<circle cx="125.3" cy="136.8" r="0.51" fill="#000"/>
<circle cx="129.0" cy="143.7" r="0.67" fill="#000"/>
<circle cx="124.4" cy="138.8" r="0.52" fill="#000"/>
<circle cx="122.6" cy="132.7" r="0.85" fill="#000"/>
<circle cx="123.9" cy="136.5" r="0.80" fill="#000"/>
<circle cx="120.6" cy="143.6" r="0.91" fill="#000"/>
<circle cx="124.8" cy="137.1" r="0.93" fill="#000"/>
<circle cx="129.8" cy="133.1" r="0.55" fill="#000"/>
<circle cx="124.4" cy="139.9" r="0.52" fill="#000"/>
<circle cx="126.9" cy="132.0" r="0.82" fill="#000"/>
<circle cx="125.8" cy="133.0" r="0.64" fill="#000"/>
<circle cx="125.0" cy="139.1" r="0.88" fill="#000"/>
<circle cx="124.7" cy="141.4" r="0.71" fill="#000"/>
<circle cx="126.1" cy="138.4" r="0.64" fill="#000"/>
<circle cx="123.4" cy="134.3" r="0.66" fill="#000"/>
<circle cx="127.2" cy="136.9" r="0.93" fill="#000"/>
<circle cx="123.5" cy="137.3" r="0.71" fill="#000"/>
<circle cx="119.6" cy="140.7" r="0.67" fill="#000"/>
<circle cx="123.0" cy="133.2" r="0.61" fill="#000"/>
<circle cx="124.8" cy="136.7" r="0.91" fill="#000"/>
<circle cx="124.1" cy="138.2" r="0.60" fill="#000"/>
<circle cx="127.3" cy="138.1" r="0.75" fill="#000"/>
<circle cx="124.5" cy="135.6" r="0.75" fill="#000"/>
<circle cx="121.0" cy="144.2" r="0.63" fill="#000"/>
<circle cx="126.1" cy="136.9" r="0.61" fill="#000"/>
<circle cx="123.0" cy="133.5" r="0.55" fill="#000"/>
<circle cx="123.2" cy="136.8" r="0.89" fill="#000"/>
<circle cx="122.4" cy="131.4" r="0.81" fill="#000"/>
<circle cx="122.3" cy="141.2" r="0.70" fill="#000"/>
<circle cx="124.9" cy="136.9" r="0.94" fill="#000"/>
<circle cx="125.9" cy="138.4" r="0.63" fill="#000"/>
<circle cx="126.7" cy="135.3" r="0.69" fill="#000"/>
<circle cx="125.5" cy="136.1" r="0.73" fill="#000"/>
<circle cx="119.4" cy="136.7" r="0.88" fill="#000"/>
<circle cx="122.4" cy="135.1" r="0.66" fill="#000"/>
<circle cx="127.0" cy="144.4" r="0.83" fill="#000"/>
<circle cx="123.9" cy="135.6" r="0.72" fill="#000"/>
<circle cx="124.5" cy="132.8" r="0.56" fill="#000"/>
<circle cx="118.3" cy="140.0" r="0.62" fill="#000"/>
<circle cx="124.9" cy="141.2" r="0.85" fill="#000"/>
<circle cx="124.9" cy="136.1" r="0.58" fill="#000"/>
<circle cx="124.0" cy="141.6" r="0.76" fill="#000"/>
<circle cx="125.3" cy="141.0" r="0.59" fill="#000"/>
<circle cx="128.5" cy="137.0" r="0.55" fill="#000"/>
<circle cx="125.3" cy="137.6" r="0.69" fill="#000"/>
<circle cx="129.0" cy="137.3" r="0.87" fill="#000"/>
<circle cx="122.3" cy="139.1" r="0.82" fill="#000"/>
<circle cx="125.5" cy="139.7" r="0.69" fill="#000"/>
<circle cx="126.8" cy="138.9" r="0.90" fill="#000"/>
<circle cx="122.9" cy="133.6" r="0.82" fill="#000"/>
<circle cx="122.5" cy="138.5" r="0.80" fill="#000"/>
<circle cx="120.2" cy="141.7" r="0.95" fill="#000"/>
<circle cx="120.7" cy="140.2" r="0.87" fill="#000"/>
<circle cx="122.2" cy="139.4" r="0.86" fill="#000"/>
<circle cx="127.5" cy="133.3" r="0.85" fill="#000"/>
<circle cx="126.5" cy="133.2" r="0.82" fill="#000"/>
<circle cx="121.7" cy="139.0" r="0.81" fill="#000"/>
<circle cx="126.4" cy="140.4" r="0.89" fill="#000"/>
<circle cx="456.7" cy="109.8" r="0.75" fill="#000"/>
<circle cx="455.2" cy="116.9" r="0.97" fill="#000"/>
<circle cx="454.5" cy="118.1" r="1.16" fill="#000"/>
<circle cx="458.9" cy="120.1" r="1.07" fill="#000"/>
<circle cx="455.4" cy="117.8" r="1.18" fill="#000"/>
<circle cx="460.4" cy="116.1" r="0.70" fill="#000"/>
<circle cx="456.4" cy="114.8" r="0.94" fill="#000"/>
<circle cx="453.8" cy="113.5" r="0.91" fill="#000"/>
<circle cx="454.6" cy="109.5" r="0.91" fill="#000"/>
<circle cx="452.6" cy="119.9" r="0.73" fill="#000"/>
<circle cx="456.5" cy="111.5" r="1.06" fill="#000"/>
<circle cx="462.5" cy="122.6" r="0.81" fill="#000"/>
<circle cx="459.3" cy="116.1" r="0.84" fill="#000"/>
<circle cx="460.0" cy="115.3" r="0.85" fill="#000"/>
<circle cx="456.8" cy="111.6" r="0.76" fill="#000"/>
<circle cx="458.1" cy="121.2" r="1.16" fill="#000"/>
<circle cx="455.8" cy="114.5" r="1.08" fill="#000"/>
<circle cx="456.2" cy="116.6" r="0.68" fill="#000"/>
<circle cx="458.2" cy="108.2" r="0.98" fill="#000"/>
<circle cx="454.5" cy="115.9" r="0.74" fill="#000"/>
<circle cx="459.7" cy="114.2" r="0.98" fill="#000"/>
<circle cx="459.3" cy="108.6" r="0.88" fill="#000"/>
<circle cx="456.7" cy="119.6" r="0.68" fill="#000"/>
<circle cx="458.6" cy="111.9" r="1.11" fill="#000"/>
<circle cx="457.2" cy="118.7" r="0.75" fill="#000"/>
<circle cx="456.1" cy="116.1" r="0.60" fill="#000"/>
<circle cx="457.2" cy="112.0" r="0.75" fill="#000"/>
<circle cx="456.6" cy="119.1" r="0.86" fill="#000"/>
<circle cx="455.2" cy="110.8" r="0.82" fill="#000"/>
<circle cx="461.7" cy="111.8" r="0.63" fill="#000"/>
<circle cx="460.0" cy="107.7" r="1.07" fill="#000"/>
<circle cx="460.4" cy="120.5" r="0.98" fill="#000"/>
<circle cx="457.9" cy="115.1" r="1.17" fill="#000"/>
<circle cx="456.5" cy="112.6" r="0.66" fill="#000"/>
<circle cx="458.6" cy="117.2" r="1.07" fill="#000"/>
<circle cx="456.7" cy="116.8" r="1.14" fill="#000"/>
<circle cx="457.9" cy="112.8" r="1.13" fill="#000"/>
<circle cx="454.2" cy="110.8" r="1.00" fill="#000"/>
<circle cx="460.8" cy="110.9" r="1.10" fill="#000"/>
<circle cx="455.0" cy="140.7" r="0.92" fill="#000"/>
<circle cx="453.9" cy="125.6" r="1.13" fill="#000"/>
<circle cx="452.5" cy="130.4" r="0.74" fill="#000"/>
<circle cx="455.5" cy="137.4" r="0.64" fill="#000"/>
<circle cx="452.9" cy="132.7" r="0.89" fill="#000"/>
<circle cx="451.5" cy="132.1" r="1.12" fill="#000"/>
<circle cx="457.8" cy="132.5" r="0.88" fill="#000"/>
<circle cx="451.3" cy="128.6" r="1.10" fill="#000"/>
<circle cx="452.5" cy="136.4" r="1.18" fill="#000"/>
<circle cx="456.5" cy="135.9" r="0.98" fill="#000"/>
<circle cx="456.7" cy="133.5" r="1.01" fill="#000"/>
<circle cx="455.6" cy="129.8" r="1.19" fill="#000"/>
<circle cx="451.7" cy="131.5" r="1.14" fill="#000"/>
<circle cx="457.1" cy="134.0" r="0.98" fill="#000"/>
<circle cx="451.9" cy="142.1" r="0.82" fill="#000"/>
<circle cx="451.6" cy="133.2" r="1.06" fill="#000"/>
<circle cx="454.5" cy="138.2" r="0.85" fill="#000"/>
<circle cx="450.5" cy="128.3" r="0.78" fill="#000"/>
<circle cx="455.0" cy="126.6" r="0.90" fill="#000"/>
<circle cx="453.7" cy="139.1" r="1.18" fill="#000"/>
<circle cx="452.0" cy="123.2" r="0.80" fill="#000"/>
<circle cx="453.3" cy="136.6" r="0.95" fill="#000"/>
<circle cx="451.7" cy="124.1" r="0.62" fill="#000"/>
<circle cx="453.4" cy="131.5" r="0.78" fill="#000"/>
<circle cx="455.3" cy="132.2" r="1.15" fill="#000"/>
<circle cx="451.7" cy="126.5" r="1.07" fill="#000"/>
<circle cx="456.3" cy="127.6" r="0.97" fill="#000"/>
<circle cx="451.8" cy="125.4" r="0.96" fill="#000"/>
<circle cx="453.4" cy="128.2" r="1.00" fill="#000"/>
<circle cx="450.7" cy="134.7" r="0.66" fill="#000"/>
<circle cx="454.2" cy="133.5" r="1.06" fill="#000"/>
<circle cx="456.5" cy="127.5" r="0.82" fill="#000"/>
<circle cx="455.5" cy="122.5" r="0.94" fill="#000"/>
<circle cx="453.9" cy="137.1" r="0.85" fill="#000"/>
<circle cx="453.1" cy="137.8" r="0.99" fill="#000"/>
<circle cx="454.6" cy="131.2" r="0.94" fill="#000"/>
<circle cx="455.0" cy="132.7" r="1.09" fill="#000"/>
<circle cx="450.0" cy="125.9" r="0.87" fill="#000"/>
<circle cx="456.0" cy="132.5" r="0.96" fill="#000"/>
<circle cx="459.2" cy="125.6" r="0.89" fill="#000"/>
<circle cx="453.2" cy="133.5" r="0.99" fill="#000"/>
<circle cx="454.3" cy="135.3" r="0.61" fill="#000"/>
<circle cx="457.0" cy="132.3" r="0.67" fill="#000"/>
<circle cx="454.8" cy="131.5" r="1.12" fill="#000"/>
<circle cx="285.5" cy="138.2" r="0.9" fill="#111"/>
<circle cx="283.8" cy="141" r="0.9" fill="#111"/>
<circle cx="119" cy="298.5" r="0.9" fill="#111"/>
<circle cx="121" cy="300.5" r="0.9" fill="#111"/>
<circle cx="285" cy="303.5" r="0.9" fill="#111"/>
<circle cx="287" cy="302.5" r="0.9" fill="#111"/>
<circle cx="446" cy="302.5" r="0.9" fill="#111"/>
<circle cx="448" cy="301.5" r="0.9" fill="#111"/>
<rect x="37.5" y="62.5" width="121" height="122" fill="none" stroke="#000" stroke-width="3"/>
<rect x="206.5" y="63.5" width="121" height="121" fill="none" stroke="#000" stroke-width="3"/>
<rect x="370.5" y="64.5" width="120" height="121" fill="none" stroke="#000" stroke-width="3"/>
<rect x="37.5" y="221.5" width="120" height="121" fill="none" stroke="#000" stroke-width="3"/>
<rect x="206.5" y="221.5" width="120" height="121" fill="none" stroke="#000" stroke-width="3"/>
<rect x="370.5" y="222.0" width="120" height="120.5" fill="none" stroke="#000" stroke-width="3"/>
<rect x="104.7" y="87.2" width="35.1" height="54.6" fill="none" stroke="#000" stroke-width="2.4"/>
<rect x="268.7" y="87.2" width="35.6" height="55.1" fill="none" stroke="#000" stroke-width="2.4"/>
<rect x="438.2" y="87.7" width="35.1" height="55.1" fill="none" stroke="#000" stroke-width="2.4"/>
<rect x="102.5" y="240.1" width="34.99999999999999" height="55.30000000000002" fill="none" stroke="#000" stroke-width="2.4"/>
<rect x="268.5" y="240.89999999999998" width="35.29999999999999" height="55.500000000000036" fill="none" stroke="#000" stroke-width="2.4"/>
<rect x="434.7" y="242.2" width="35.6" height="55.6" fill="none" stroke="#000" stroke-width="2.4"/>
<text transform="translate(61.2,111.5) scale(1.04,1.07)" font-size="15.4">5.5%</text>
<text transform="translate(221.4,111.7) scale(1.04,1.07)" font-size="15.4">0.1%</text>
<text transform="translate(396.0,113.3) scale(1.04,1.07)" font-size="15.4">1.2%</text>
<text transform="translate(58.4,269.90000000000003) scale(1.04,1.07)" font-size="15.4">0.0%</text>
<text transform="translate(220.8,269.6) scale(1.04,1.07)" font-size="15.4">0.0%</text>
<text transform="translate(392.3,270.3) scale(1.04,1.07)" font-size="15.4">0.0%</text>
<text x="40.6" y="190.4" font-size="4.6" text-anchor="middle" style="stroke-width:0.25px">10<tspan font-size="3.2" dy="-1.8">0</tspan></text>
<text x="70.4" y="190.4" font-size="4.6" text-anchor="middle" style="stroke-width:0.25px">10<tspan font-size="3.2" dy="-1.8">1</tspan></text>
<text x="100.2" y="190.4" font-size="4.6" text-anchor="middle" style="stroke-width:0.25px">10<tspan font-size="3.2" dy="-1.8">2</tspan></text>
<text x="130.0" y="190.4" font-size="4.6" text-anchor="middle" style="stroke-width:0.25px">10<tspan font-size="3.2" dy="-1.8">3</tspan></text>
<text x="159.8" y="190.4" font-size="4.6" text-anchor="middle" style="stroke-width:0.25px">10<tspan font-size="3.2" dy="-1.8">4</tspan></text>
<text transform="translate(35.4,60.0) rotate(-90)" font-size="4.6" text-anchor="middle" style="stroke-width:0.25px">10<tspan font-size="3.2" dy="-1.8">4</tspan></text>
<text transform="translate(35.4,89.7) rotate(-90)" font-size="4.6" text-anchor="middle" style="stroke-width:0.25px">10<tspan font-size="3.2" dy="-1.8">3</tspan></text>
<text transform="translate(35.4,119.4) rotate(-90)" font-size="4.6" text-anchor="middle" style="stroke-width:0.25px">10<tspan font-size="3.2" dy="-1.8">2</tspan></text>
<text transform="translate(35.4,149.1) rotate(-90)" font-size="4.6" text-anchor="middle" style="stroke-width:0.25px">10<tspan font-size="3.2" dy="-1.8">1</tspan></text>
<text transform="translate(35.4,178.8) rotate(-90)" font-size="4.6" text-anchor="middle" style="stroke-width:0.25px">10<tspan font-size="3.2" dy="-1.8">0</tspan></text>
<text x="209.6" y="190.4" font-size="4.6" text-anchor="middle" style="stroke-width:0.25px">10<tspan font-size="3.2" dy="-1.8">0</tspan></text>
<text x="239.4" y="190.4" font-size="4.6" text-anchor="middle" style="stroke-width:0.25px">10<tspan font-size="3.2" dy="-1.8">1</tspan></text>
<text x="269.2" y="190.4" font-size="4.6" text-anchor="middle" style="stroke-width:0.25px">10<tspan font-size="3.2" dy="-1.8">2</tspan></text>
<text x="299.0" y="190.4" font-size="4.6" text-anchor="middle" style="stroke-width:0.25px">10<tspan font-size="3.2" dy="-1.8">3</tspan></text>
<text x="328.8" y="190.4" font-size="4.6" text-anchor="middle" style="stroke-width:0.25px">10<tspan font-size="3.2" dy="-1.8">4</tspan></text>
<text transform="translate(204.4,61.0) rotate(-90)" font-size="4.6" text-anchor="middle" style="stroke-width:0.25px">10<tspan font-size="3.2" dy="-1.8">4</tspan></text>
<text transform="translate(204.4,90.7) rotate(-90)" font-size="4.6" text-anchor="middle" style="stroke-width:0.25px">10<tspan font-size="3.2" dy="-1.8">3</tspan></text>
<text transform="translate(204.4,120.4) rotate(-90)" font-size="4.6" text-anchor="middle" style="stroke-width:0.25px">10<tspan font-size="3.2" dy="-1.8">2</tspan></text>
<text transform="translate(204.4,150.1) rotate(-90)" font-size="4.6" text-anchor="middle" style="stroke-width:0.25px">10<tspan font-size="3.2" dy="-1.8">1</tspan></text>
<text transform="translate(204.4,179.8) rotate(-90)" font-size="4.6" text-anchor="middle" style="stroke-width:0.25px">10<tspan font-size="3.2" dy="-1.8">0</tspan></text>
<text x="373.6" y="191.4" font-size="4.6" text-anchor="middle" style="stroke-width:0.25px">10<tspan font-size="3.2" dy="-1.8">0</tspan></text>
<text x="403.4" y="191.4" font-size="4.6" text-anchor="middle" style="stroke-width:0.25px">10<tspan font-size="3.2" dy="-1.8">1</tspan></text>
<text x="433.2" y="191.4" font-size="4.6" text-anchor="middle" style="stroke-width:0.25px">10<tspan font-size="3.2" dy="-1.8">2</tspan></text>
<text x="463.0" y="191.4" font-size="4.6" text-anchor="middle" style="stroke-width:0.25px">10<tspan font-size="3.2" dy="-1.8">3</tspan></text>
<text x="492.8" y="191.4" font-size="4.6" text-anchor="middle" style="stroke-width:0.25px">10<tspan font-size="3.2" dy="-1.8">4</tspan></text>
<text transform="translate(368.4,62.0) rotate(-90)" font-size="4.6" text-anchor="middle" style="stroke-width:0.25px">10<tspan font-size="3.2" dy="-1.8">4</tspan></text>
<text transform="translate(368.4,91.7) rotate(-90)" font-size="4.6" text-anchor="middle" style="stroke-width:0.25px">10<tspan font-size="3.2" dy="-1.8">3</tspan></text>
<text transform="translate(368.4,121.4) rotate(-90)" font-size="4.6" text-anchor="middle" style="stroke-width:0.25px">10<tspan font-size="3.2" dy="-1.8">2</tspan></text>
<text transform="translate(368.4,151.1) rotate(-90)" font-size="4.6" text-anchor="middle" style="stroke-width:0.25px">10<tspan font-size="3.2" dy="-1.8">1</tspan></text>
<text transform="translate(368.4,180.8) rotate(-90)" font-size="4.6" text-anchor="middle" style="stroke-width:0.25px">10<tspan font-size="3.2" dy="-1.8">0</tspan></text>
<text x="40.6" y="348.4" font-size="4.6" text-anchor="middle" style="stroke-width:0.25px">10<tspan font-size="3.2" dy="-1.8">0</tspan></text>
<text x="70.4" y="348.4" font-size="4.6" text-anchor="middle" style="stroke-width:0.25px">10<tspan font-size="3.2" dy="-1.8">1</tspan></text>
<text x="100.2" y="348.4" font-size="4.6" text-anchor="middle" style="stroke-width:0.25px">10<tspan font-size="3.2" dy="-1.8">2</tspan></text>
<text x="130.0" y="348.4" font-size="4.6" text-anchor="middle" style="stroke-width:0.25px">10<tspan font-size="3.2" dy="-1.8">3</tspan></text>
<text x="159.8" y="348.4" font-size="4.6" text-anchor="middle" style="stroke-width:0.25px">10<tspan font-size="3.2" dy="-1.8">4</tspan></text>
<text transform="translate(35.4,219.0) rotate(-90)" font-size="4.6" text-anchor="middle" style="stroke-width:0.25px">10<tspan font-size="3.2" dy="-1.8">4</tspan></text>
<text transform="translate(35.4,248.7) rotate(-90)" font-size="4.6" text-anchor="middle" style="stroke-width:0.25px">10<tspan font-size="3.2" dy="-1.8">3</tspan></text>
<text transform="translate(35.4,278.4) rotate(-90)" font-size="4.6" text-anchor="middle" style="stroke-width:0.25px">10<tspan font-size="3.2" dy="-1.8">2</tspan></text>
<text transform="translate(35.4,308.1) rotate(-90)" font-size="4.6" text-anchor="middle" style="stroke-width:0.25px">10<tspan font-size="3.2" dy="-1.8">1</tspan></text>
<text transform="translate(35.4,337.8) rotate(-90)" font-size="4.6" text-anchor="middle" style="stroke-width:0.25px">10<tspan font-size="3.2" dy="-1.8">0</tspan></text>
<text x="209.6" y="348.4" font-size="4.6" text-anchor="middle" style="stroke-width:0.25px">10<tspan font-size="3.2" dy="-1.8">0</tspan></text>
<text x="239.4" y="348.4" font-size="4.6" text-anchor="middle" style="stroke-width:0.25px">10<tspan font-size="3.2" dy="-1.8">1</tspan></text>
<text x="269.2" y="348.4" font-size="4.6" text-anchor="middle" style="stroke-width:0.25px">10<tspan font-size="3.2" dy="-1.8">2</tspan></text>
<text x="299.0" y="348.4" font-size="4.6" text-anchor="middle" style="stroke-width:0.25px">10<tspan font-size="3.2" dy="-1.8">3</tspan></text>
<text x="328.8" y="348.4" font-size="4.6" text-anchor="middle" style="stroke-width:0.25px">10<tspan font-size="3.2" dy="-1.8">4</tspan></text>
<text transform="translate(204.4,219.0) rotate(-90)" font-size="4.6" text-anchor="middle" style="stroke-width:0.25px">10<tspan font-size="3.2" dy="-1.8">4</tspan></text>
<text transform="translate(204.4,248.7) rotate(-90)" font-size="4.6" text-anchor="middle" style="stroke-width:0.25px">10<tspan font-size="3.2" dy="-1.8">3</tspan></text>
<text transform="translate(204.4,278.4) rotate(-90)" font-size="4.6" text-anchor="middle" style="stroke-width:0.25px">10<tspan font-size="3.2" dy="-1.8">2</tspan></text>
<text transform="translate(204.4,308.1) rotate(-90)" font-size="4.6" text-anchor="middle" style="stroke-width:0.25px">10<tspan font-size="3.2" dy="-1.8">1</tspan></text>
<text transform="translate(204.4,337.8) rotate(-90)" font-size="4.6" text-anchor="middle" style="stroke-width:0.25px">10<tspan font-size="3.2" dy="-1.8">0</tspan></text>
<text x="373.6" y="348.4" font-size="4.6" text-anchor="middle" style="stroke-width:0.25px">10<tspan font-size="3.2" dy="-1.8">0</tspan></text>
<text x="403.4" y="348.4" font-size="4.6" text-anchor="middle" style="stroke-width:0.25px">10<tspan font-size="3.2" dy="-1.8">1</tspan></text>
<text x="433.2" y="348.4" font-size="4.6" text-anchor="middle" style="stroke-width:0.25px">10<tspan font-size="3.2" dy="-1.8">2</tspan></text>
<text x="463.0" y="348.4" font-size="4.6" text-anchor="middle" style="stroke-width:0.25px">10<tspan font-size="3.2" dy="-1.8">3</tspan></text>
<text x="492.8" y="348.4" font-size="4.6" text-anchor="middle" style="stroke-width:0.25px">10<tspan font-size="3.2" dy="-1.8">4</tspan></text>
<text transform="translate(368.4,219.5) rotate(-90)" font-size="4.6" text-anchor="middle" style="stroke-width:0.25px">10<tspan font-size="3.2" dy="-1.8">4</tspan></text>
<text transform="translate(368.4,249.2) rotate(-90)" font-size="4.6" text-anchor="middle" style="stroke-width:0.25px">10<tspan font-size="3.2" dy="-1.8">3</tspan></text>
<text transform="translate(368.4,278.9) rotate(-90)" font-size="4.6" text-anchor="middle" style="stroke-width:0.25px">10<tspan font-size="3.2" dy="-1.8">2</tspan></text>
<text transform="translate(368.4,308.6) rotate(-90)" font-size="4.6" text-anchor="middle" style="stroke-width:0.25px">10<tspan font-size="3.2" dy="-1.8">1</tspan></text>
<text transform="translate(368.4,338.3) rotate(-90)" font-size="4.6" text-anchor="middle" style="stroke-width:0.25px">10<tspan font-size="3.2" dy="-1.8">0</tspan></text>
<text transform="translate(16.2,125.4) rotate(-90)" x="0" y="0" font-size="16.15" font-style="italic" text-anchor="middle">MART-1 tetramer</text>
<text transform="translate(15.0,275.8) rotate(-90)" x="0" y="0" font-size="16" font-style="italic" text-anchor="middle">tax tetramer</text>
<text transform="translate(259.0,369.4) scale(1.0,1.07)" font-size="15.4">CD8</text>
<text transform="translate(-0.6,417.6) scale(1.03,1.09)" font-size="24">B</text>
<text transform="translate(54.5,419.2) scale(1.0,1.05)" font-size="17.3" font-style="italic">Stimulator:</text>
<text transform="translate(54.0,442.2) scale(1.0,1.05)" font-size="13.4" font-style="italic">CD40-B/MART-1 RNA</text>
<text transform="translate(346.0,441.6) scale(1.0,1.05)" font-size="13.4" font-style="italic">DC/MART-1 RNA</text>
<text transform="translate(16.2,544.8) rotate(-90)" x="0" y="0" font-size="16.7" font-style="italic" text-anchor="middle">Spots per 25,000 cells</text>
<line x1="49.2" y1="481.5" x2="49.2" y2="627.3" stroke="#000" stroke-width="1.8"/>
<line x1="48.300000000000004" y1="626.5" x2="271.5" y2="626.5" stroke="#000" stroke-width="1.8"/>
<line x1="46.7" y1="482.0" x2="49.2" y2="482.0" stroke="#000" stroke-width="1.2"/>
<text transform="translate(46.0,485.2) scale(1.05,1.13)" font-size="8.5" text-anchor="end">200</text>
<line x1="46.7" y1="518.1" x2="49.2" y2="518.1" stroke="#000" stroke-width="1.2"/>
<text transform="translate(46.0,521.325) scale(1.05,1.13)" font-size="8.5" text-anchor="end">150</text>
<line x1="46.7" y1="554.2" x2="49.2" y2="554.2" stroke="#000" stroke-width="1.2"/>
<text transform="translate(46.0,557.45) scale(1.05,1.13)" font-size="8.5" text-anchor="end">100</text>
<line x1="46.7" y1="590.4" x2="49.2" y2="590.4" stroke="#000" stroke-width="1.2"/>
<text transform="translate(46.0,593.575) scale(1.05,1.13)" font-size="8.5" text-anchor="end">50</text>
<line x1="46.7" y1="626.5" x2="49.2" y2="626.5" stroke="#000" stroke-width="1.2"/>
<text transform="translate(46.0,629.7) scale(1.05,1.13)" font-size="8.5" text-anchor="end">0</text>
<rect x="71.5" y="622.3" width="30.0" height="4.2000000000000455" fill="#000"/>
<line x1="86.5" y1="616.2" x2="86.5" y2="622.3" stroke="#000" stroke-width="1.5"/>
<rect x="145.4" y="602.6" width="30.0" height="23.899999999999977" fill="#000"/>
<line x1="160" y1="593.4" x2="160" y2="602.6" stroke="#000" stroke-width="1.5"/>
<rect x="219" y="506.3" width="30.69999999999999" height="120.19999999999999" fill="#000"/>
<line x1="234.5" y1="493.4" x2="234.5" y2="506.3" stroke="#000" stroke-width="1.5"/>
<text transform="translate(132.6,523.6) scale(1.0,1.05)" font-size="12.2"><tspan font-style="italic">P</tspan> &lt;.01</text>
<path d="M160.00,584.60L160.00,581.60M160.00,584.60L162.85,583.67M160.00,584.60L161.76,587.03M160.00,584.60L158.24,587.03M160.00,584.60L157.15,583.67" stroke="#000" stroke-width="1.9" stroke-linecap="round" fill="none"/>
<path d="M234.80,484.60L234.80,481.60M234.80,484.60L237.65,483.67M234.80,484.60L236.56,487.03M234.80,484.60L233.04,487.03M234.80,484.60L231.95,483.67" stroke="#000" stroke-width="1.9" stroke-linecap="round" fill="none"/>
<text transform="translate(66.3,645.9) scale(1.01,1.08)" font-size="14.6">T cells</text>
<text transform="translate(74.4,661.0) scale(1.01,1.08)" font-size="14.6">only</text>
<text transform="translate(150.6,646.2) scale(1.01,1.08)" font-size="14.6">tax</text>
<text transform="translate(207.7,647.0) scale(1.01,1.08)" font-size="14.6">MART-1</text>
<line x1="300.6" y1="486" x2="300.6" y2="627.1999999999999" stroke="#000" stroke-width="1.8"/>
<line x1="299.70000000000005" y1="626.4" x2="517" y2="626.4" stroke="#000" stroke-width="1.8"/>
<line x1="298.1" y1="486.0" x2="300.6" y2="486.0" stroke="#000" stroke-width="1.2"/>
<text transform="translate(297.40000000000003,489.2) scale(1.05,1.13)" font-size="8.5" text-anchor="end">100</text>
<line x1="298.1" y1="521.1" x2="300.6" y2="521.1" stroke="#000" stroke-width="1.2"/>
<text transform="translate(297.40000000000003,524.3000000000001) scale(1.05,1.13)" font-size="8.5" text-anchor="end">75</text>
<line x1="298.1" y1="556.2" x2="300.6" y2="556.2" stroke="#000" stroke-width="1.2"/>
<text transform="translate(297.40000000000003,559.4000000000001) scale(1.05,1.13)" font-size="8.5" text-anchor="end">50</text>
<line x1="298.1" y1="591.3" x2="300.6" y2="591.3" stroke="#000" stroke-width="1.2"/>
<text transform="translate(297.40000000000003,594.5) scale(1.05,1.13)" font-size="8.5" text-anchor="end">25</text>
<line x1="298.1" y1="626.4" x2="300.6" y2="626.4" stroke="#000" stroke-width="1.2"/>
<text transform="translate(297.40000000000003,629.6) scale(1.05,1.13)" font-size="8.5" text-anchor="end">0</text>
<line x1="373.5" y1="626.4" x2="373.5" y2="628.9" stroke="#000" stroke-width="1.2"/>
<line x1="437.7" y1="626.4" x2="437.7" y2="628.9" stroke="#000" stroke-width="1.2"/>
<rect x="322" y="612.3" width="29.69999999999999" height="14.100000000000023" fill="#000"/>
<line x1="337" y1="602" x2="337" y2="612.3" stroke="#000" stroke-width="1.5"/>
<rect x="395" y="609.7" width="29.600000000000023" height="16.699999999999932" fill="#000"/>
<line x1="410.8" y1="598.5" x2="410.8" y2="609.7" stroke="#000" stroke-width="1.5"/>
<rect x="467.4" y="549.7" width="29.100000000000023" height="76.69999999999993" fill="#000"/>
<line x1="481.5" y1="524.6" x2="481.5" y2="549.7" stroke="#000" stroke-width="1.5"/>
<text transform="translate(390.7,523.6) scale(1.0,1.05)" font-size="12.2"><tspan font-style="italic">P</tspan> &lt; .05</text>
<path d="M410.40,591.20L410.40,588.20M410.40,591.20L413.25,590.27M410.40,591.20L412.16,593.63M410.40,591.20L408.64,593.63M410.40,591.20L407.55,590.27" stroke="#000" stroke-width="1.9" stroke-linecap="round" fill="none"/>
<path d="M482.60,516.80L482.60,513.80M482.60,516.80L485.45,515.87M482.60,516.80L484.36,519.23M482.60,516.80L480.84,519.23M482.60,516.80L479.75,515.87" stroke="#000" stroke-width="1.9" stroke-linecap="round" fill="none"/>
<text transform="translate(313.8,646.3) scale(1.01,1.08)" font-size="14.6">T cells</text>
<text transform="translate(323.0,661.3) scale(1.01,1.08)" font-size="14.6">only</text>
<text transform="translate(396.0,647.6) scale(1.01,1.08)" font-size="14.6">GFP</text>
<text transform="translate(457.3,647.8) scale(1.01,1.08)" font-size="14.6">MART-1</text>
<text transform="translate(0.5,743.8) scale(1.0,1.12)" font-size="24">C</text>
<text transform="translate(62.8,745.2) scale(1.0,1.03)" font-size="17.8" font-style="italic">Stimulator:</text>
<text transform="translate(62.8,767.8) scale(1.0,1.05)" font-size="13.4" font-style="italic">CD40-B/MART-1 RNA</text>
<text transform="translate(62.6,782.8) scale(1.0,1.05)" font-size="13.8" font-style="italic">or GFP RNA</text>
<text transform="translate(306.2,781.2) scale(1.0,1.05)" font-size="13.4" font-style="italic">CD40-B/MART-1 RNA</text>
<text transform="translate(17.8,890) rotate(-90)" x="0" y="0" font-size="16.7" font-style="italic" text-anchor="middle">specific lysis (%)</text>
<rect x="62.75" y="788.75" width="157.0" height="208.0" fill="none" stroke="#000" stroke-width="3.5"/>
<rect x="297.75" y="789.75" width="158.5" height="207.5" fill="none" stroke="#000" stroke-width="3.5"/>
<text transform="translate(57.3,830.3) scale(1.0,1.07)" font-size="15.4" text-anchor="end">45</text>
<text transform="translate(57.3,889.5) scale(1.0,1.07)" font-size="15.4" text-anchor="end">30</text>
<text transform="translate(57.3,949.0999999999999) scale(1.0,1.07)" font-size="15.4" text-anchor="end">15</text>
<text transform="translate(292.2,830.3) scale(1.0,1.07)" font-size="15.4" text-anchor="end">45</text>
<text transform="translate(292.2,889.5) scale(1.0,1.07)" font-size="15.4" text-anchor="end">30</text>
<text transform="translate(292.2,949.0999999999999) scale(1.0,1.07)" font-size="15.4" text-anchor="end">15</text>
<text transform="translate(69.2,1016.6) scale(1.0,1.07)" font-size="13.2">3:1</text>
<text transform="translate(118.5,1016.6) scale(1.0,1.07)" font-size="13.2">10:1</text>
<text transform="translate(185.1,1016.6) scale(1.0,1.07)" font-size="13.2">30:1</text>
<text transform="translate(305.0,1016.6) scale(1.0,1.07)" font-size="13.2">3:1</text>
<text transform="translate(354.5,1016.6) scale(1.0,1.07)" font-size="13.2">10:1</text>
<text transform="translate(421.3,1016.6) scale(1.0,1.07)" font-size="13.2">30:1</text>
<text transform="translate(222.2,1051.2) scale(1.0,1.05)" font-size="16.9">E:T ratio</text>
<polyline points="80,989.5 128.8,988.5 207.8,979.2" fill="none" stroke="#000" stroke-width="1.3"/>
<polyline points="80,987 128.8,983.2 207.9,975.6" fill="none" stroke="#000" stroke-width="1.3"/>
<polyline points="80,986.8 129,977.6 208.3,965.6" fill="none" stroke="#000" stroke-width="1.3"/>
<polyline points="80.2,962.7 128.8,937.9 208.1,850.2" fill="none" stroke="#000" stroke-width="1.5"/>
<rect x="74.5" y="984.0" width="11" height="11" fill="#fff" stroke="#000" stroke-width="2"/>
<rect x="123.3" y="983.0" width="11" height="11" fill="#fff" stroke="#000" stroke-width="2"/>
<rect x="202.3" y="973.7" width="11" height="11" fill="#fff" stroke="#000" stroke-width="2"/>
<circle cx="80" cy="987" r="5.5" fill="#fff" stroke="#000" stroke-width="2.2"/>
<circle cx="128.8" cy="983.2" r="5.5" fill="#fff" stroke="#000" stroke-width="2.2"/>
<circle cx="207.9" cy="975.6" r="5.5" fill="#fff" stroke="#000" stroke-width="2.2"/>
<rect x="73.4" y="980.2" width="13.2" height="13.2" fill="#000"/>
<rect x="122.4" y="971.0" width="13.2" height="13.2" fill="#000"/>
<rect x="201.7" y="959.0" width="13.2" height="13.2" fill="#000"/>
<rect x="73.4" y="987" width="13.2" height="7.6" fill="#000"/>
<circle cx="80.2" cy="962.7" r="7.4" fill="#000"/>
<circle cx="128.8" cy="937.9" r="7.4" fill="#000"/>
<circle cx="208.1" cy="850.2" r="7.4" fill="#000"/>
<g stroke-opacity="0.85">
<polyline points="316.2,955.6666666666666 363.0,917.7333333333332 438.3,830.1999999999999" fill="none" stroke="#000" stroke-width="0.95"/>
<polyline points="316.2,986.9666666666667 365.5,970.4 437.6,949.6666666666666" fill="none" stroke="#000" stroke-width="0.95"/>
</g>
<polygon points="316.2,947 322.8,960 309.59999999999997,960" fill="#000"/>
<polygon points="363.0,909.2 370.0,922 356.0,922" fill="#000"/>
<polygon points="438.3,821.4 445.1,834.6 431.5,834.6" fill="#000"/>
<polygon points="316.2,979.1 321.59000000000003,990.9000000000001 310.80999999999995,990.9000000000001" fill="#fff" stroke="#000" stroke-width="2.6" stroke-linejoin="miter"/>
<polygon points="365.5,963.0 370.89000000000004,974.1 360.10999999999996,974.1" fill="#fff" stroke="#000" stroke-width="2.6" stroke-linejoin="miter"/>
<polygon points="437.6,942.4 442.79,953.3000000000001 432.41,953.3000000000001" fill="#fff" stroke="#000" stroke-width="2.6" stroke-linejoin="miter"/>
</svg>
</body></html>
